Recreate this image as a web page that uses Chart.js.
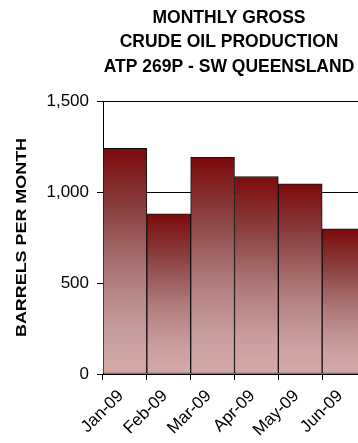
<!DOCTYPE html>
<html>
<head>
<meta charset="utf-8">
<script src="https://cdn.jsdelivr.net/npm/chart.js@4/dist/chart.umd.min.js"></script>
<style>
  html, body { margin: 0; padding: 0; background: #fff; overflow: hidden; }
  #wrap { width: 366px; height: 443px; }
</style>
</head>
<body>
<div id="wrap"><canvas id="c" width="366" height="443"></canvas></div>
<script>
// Monthly gross crude oil production, ATP 269P (SW Queensland)
const months = ['Jan-09', 'Feb-09', 'Mar-09', 'Apr-09', 'May-09', 'Jun-09'];
const barrels = [1240, 880, 1190, 1085, 1045, 797];
const yTicks = [0, 500, 1000, 1500];
const titleLines = ['MONTHLY GROSS', 'CRUDE OIL PRODUCTION', 'ATP 269P - SW QUEENSLAND'];
const yTitle = 'BARRELS PER MONTH';

const FONT = "'Liberation Sans', Arial, Helvetica, sans-serif";

// Each bar fades from deep red at its top to pale rose at the baseline
function barGradient(ctx) {
  const chart = ctx.chart;
  const area = chart.chartArea;
  if (!area || ctx.dataIndex === undefined) return '#a05a5a';
  const y = chart.scales.y;
  const top = y.getPixelForValue(barrels[ctx.dataIndex]);
  const base = y.getPixelForValue(0);
  const g = chart.ctx.createLinearGradient(0, top, 0, base);
  g.addColorStop(0, '#7c0a0a');
  g.addColorStop(0.28, '#8c4242');
  g.addColorStop(0.55, '#ad7878');
  g.addColorStop(0.8, '#c89c9c');
  g.addColorStop(1, '#d6a9a9');
  return g;
}

// Headline and vertical axis caption
const captions = {
  id: 'captions',
  afterDraw(chart) {
    const c = chart.ctx;
    const area = chart.chartArea;
    c.save();
    c.fillStyle = '#000';
    c.textAlign = 'center';
    c.textBaseline = 'middle';
    c.font = 'bold 17.5px ' + FONT;
    titleLines.forEach((t, i) => c.fillText(t, 229, 18 + i * 24.5));
    // axis caption, centred on the plot height and stretched along its length
    c.translate(22, (area.top + area.bottom) / 2);
    c.rotate(-Math.PI / 2);
    c.font = 'bold 15px ' + FONT;
    const w = c.measureText(yTitle).width;
    c.scale(199 / w, 1);
    c.fillText(yTitle, 0, 0);
    c.restore();
  }
};

new Chart(document.getElementById('c'), {
  type: 'bar',
  data: {
    labels: months,
    datasets: [{
      data: barrels,
      backgroundColor: barGradient,
      borderColor: '#111',
      borderWidth: 1,
      borderSkipped: false,
      barPercentage: 1,
      categoryPercentage: 1
    }]
  },
  options: {
    responsive: false,
    animation: false,
    layout: { padding: { top: 101, left: 0, right: 0, bottom: 0 } },
    plugins: { legend: { display: false }, title: { display: false }, tooltip: { enabled: false } },
    scales: {
      x: {
        offset: true,
        grid: { offset: true, drawOnChartArea: false, color: '#000', tickLength: 6, lineWidth: 1 },
        border: { color: '#000', width: 1 },
        ticks: { color: '#000', font: { family: FONT, size: 17 }, minRotation: 45, maxRotation: 45, padding: 6, labelOffset: -4 },
        afterFit(scale) { scale.height = 69; }
      },
      y: {
        min: 0, max: 1500,
        afterBuildTicks(scale) { scale.ticks = yTicks.map(v => ({ value: v })); },
        grid: { color: '#000', tickLength: 6, lineWidth: 1 },
        border: { color: '#000', width: 1 },
        ticks: { color: '#000', font: { family: FONT, size: 17 }, padding: 8 },
        afterFit(scale) { scale.width = 103; }
      }
    }
  },
  plugins: [captions]
});
</script>
</body>
</html>
